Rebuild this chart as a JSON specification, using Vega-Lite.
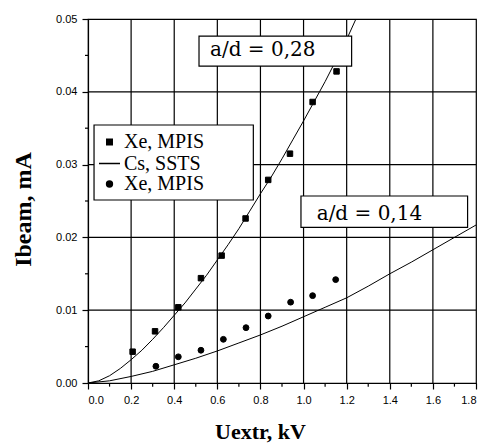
{
  "$schema": "https://vega.github.io/schema/vega-lite/v6.json",
  "width": 388,
  "height": 364,
  "autosize": "none",
  "padding": {"left": 88, "top": 19, "right": 8, "bottom": 65},
  "background": "white",
  "config": {
    "view": {"stroke": "black", "strokeWidth": 1.2},
    "axis": {
      "grid": false,
      "domainColor": "black", "domainWidth": 1.2,
      "tickColor": "black", "tickWidth": 1.2,
      "labelColor": "black", "labelFont": "Liberation Sans", "labelFontSize": 11,
      "titleColor": "black"
    }
  },
  "datasets": {
    "points": [
      {"U": 0.207, "I": 0.0043, "series": "Xe, MPIS (a/d = 0,28)"},
      {"U": 0.311, "I": 0.0071, "series": "Xe, MPIS (a/d = 0,28)"},
      {"U": 0.419, "I": 0.0104, "series": "Xe, MPIS (a/d = 0,28)"},
      {"U": 0.524, "I": 0.0144, "series": "Xe, MPIS (a/d = 0,28)"},
      {"U": 0.620, "I": 0.0175, "series": "Xe, MPIS (a/d = 0,28)"},
      {"U": 0.731, "I": 0.0226, "series": "Xe, MPIS (a/d = 0,28)"},
      {"U": 0.836, "I": 0.0279, "series": "Xe, MPIS (a/d = 0,28)"},
      {"U": 0.937, "I": 0.0315, "series": "Xe, MPIS (a/d = 0,28)"},
      {"U": 1.042, "I": 0.0386, "series": "Xe, MPIS (a/d = 0,28)"},
      {"U": 1.153, "I": 0.0428, "series": "Xe, MPIS (a/d = 0,28)"},
      {"U": 0.315, "I": 0.0023, "series": "Xe, MPIS (a/d = 0,14)"},
      {"U": 0.419, "I": 0.0036, "series": "Xe, MPIS (a/d = 0,14)"},
      {"U": 0.524, "I": 0.0045, "series": "Xe, MPIS (a/d = 0,14)"},
      {"U": 0.628, "I": 0.0060, "series": "Xe, MPIS (a/d = 0,14)"},
      {"U": 0.733, "I": 0.0076, "series": "Xe, MPIS (a/d = 0,14)"},
      {"U": 0.836, "I": 0.0092, "series": "Xe, MPIS (a/d = 0,14)"},
      {"U": 0.940, "I": 0.0111, "series": "Xe, MPIS (a/d = 0,14)"},
      {"U": 1.042, "I": 0.0120, "series": "Xe, MPIS (a/d = 0,14)"},
      {"U": 1.149, "I": 0.0142, "series": "Xe, MPIS (a/d = 0,14)"}
    ],
    "curves": [
      {"U": 0.0, "I": 0.0, "curve": "a/d = 0,28"},
      {"U": 0.05, "I": 0.0003, "curve": "a/d = 0,28"},
      {"U": 0.1, "I": 0.0010, "curve": "a/d = 0,28"},
      {"U": 0.15, "I": 0.0020, "curve": "a/d = 0,28"},
      {"U": 0.2, "I": 0.0032, "curve": "a/d = 0,28"},
      {"U": 0.25, "I": 0.0045, "curve": "a/d = 0,28"},
      {"U": 0.3, "I": 0.0060, "curve": "a/d = 0,28"},
      {"U": 0.35, "I": 0.0076, "curve": "a/d = 0,28"},
      {"U": 0.4, "I": 0.0093, "curve": "a/d = 0,28"},
      {"U": 0.45, "I": 0.0110, "curve": "a/d = 0,28"},
      {"U": 0.5, "I": 0.0129, "curve": "a/d = 0,28"},
      {"U": 0.55, "I": 0.0148, "curve": "a/d = 0,28"},
      {"U": 0.6, "I": 0.0169, "curve": "a/d = 0,28"},
      {"U": 0.65, "I": 0.0190, "curve": "a/d = 0,28"},
      {"U": 0.7, "I": 0.0212, "curve": "a/d = 0,28"},
      {"U": 0.75, "I": 0.0236, "curve": "a/d = 0,28"},
      {"U": 0.8, "I": 0.0260, "curve": "a/d = 0,28"},
      {"U": 0.85, "I": 0.0283, "curve": "a/d = 0,28"},
      {"U": 0.9, "I": 0.0308, "curve": "a/d = 0,28"},
      {"U": 0.95, "I": 0.0334, "curve": "a/d = 0,28"},
      {"U": 1.0, "I": 0.0360, "curve": "a/d = 0,28"},
      {"U": 1.05, "I": 0.0387, "curve": "a/d = 0,28"},
      {"U": 1.1, "I": 0.0414, "curve": "a/d = 0,28"},
      {"U": 1.15, "I": 0.0443, "curve": "a/d = 0,28"},
      {"U": 1.2, "I": 0.0472, "curve": "a/d = 0,28"},
      {"U": 1.243, "I": 0.0500, "curve": "a/d = 0,28"},
      {"U": 0.0, "I": 0.0, "curve": "a/d = 0,14"},
      {"U": 0.1, "I": 0.0003, "curve": "a/d = 0,14"},
      {"U": 0.2, "I": 0.0009, "curve": "a/d = 0,14"},
      {"U": 0.3, "I": 0.0016, "curve": "a/d = 0,14"},
      {"U": 0.4, "I": 0.0025, "curve": "a/d = 0,14"},
      {"U": 0.5, "I": 0.0034, "curve": "a/d = 0,14"},
      {"U": 0.6, "I": 0.0044, "curve": "a/d = 0,14"},
      {"U": 0.7, "I": 0.0055, "curve": "a/d = 0,14"},
      {"U": 0.8, "I": 0.0066, "curve": "a/d = 0,14"},
      {"U": 0.9, "I": 0.0078, "curve": "a/d = 0,14"},
      {"U": 1.0, "I": 0.0091, "curve": "a/d = 0,14"},
      {"U": 1.1, "I": 0.0104, "curve": "a/d = 0,14"},
      {"U": 1.2, "I": 0.0117, "curve": "a/d = 0,14"},
      {"U": 1.3, "I": 0.0133, "curve": "a/d = 0,14"},
      {"U": 1.4, "I": 0.0150, "curve": "a/d = 0,14"},
      {"U": 1.5, "I": 0.0166, "curve": "a/d = 0,14"},
      {"U": 1.6, "I": 0.0183, "curve": "a/d = 0,14"},
      {"U": 1.7, "I": 0.0200, "curve": "a/d = 0,14"},
      {"U": 1.8, "I": 0.0217, "curve": "a/d = 0,14"}
    ],
    "grid": [
      {"g": "U 0.2", "U": 0.2, "I": 0}, {"g": "U 0.2", "U": 0.2, "I": 0.05},
      {"g": "U 0.4", "U": 0.4, "I": 0}, {"g": "U 0.4", "U": 0.4, "I": 0.05},
      {"g": "U 0.6", "U": 0.6, "I": 0}, {"g": "U 0.6", "U": 0.6, "I": 0.05},
      {"g": "U 0.8", "U": 0.8, "I": 0}, {"g": "U 0.8", "U": 0.8, "I": 0.05},
      {"g": "U 1.0", "U": 1.0, "I": 0}, {"g": "U 1.0", "U": 1.0, "I": 0.05},
      {"g": "U 1.2", "U": 1.2, "I": 0}, {"g": "U 1.2", "U": 1.2, "I": 0.05},
      {"g": "U 1.4", "U": 1.4, "I": 0}, {"g": "U 1.4", "U": 1.4, "I": 0.05},
      {"g": "U 1.6", "U": 1.6, "I": 0}, {"g": "U 1.6", "U": 1.6, "I": 0.05},
      {"g": "I 0.01", "U": 0, "I": 0.01}, {"g": "I 0.01", "U": 1.8, "I": 0.01},
      {"g": "I 0.02", "U": 0, "I": 0.02}, {"g": "I 0.02", "U": 1.8, "I": 0.02},
      {"g": "I 0.03", "U": 0, "I": 0.03}, {"g": "I 0.03", "U": 1.8, "I": 0.03},
      {"g": "I 0.04", "U": 0, "I": 0.04}, {"g": "I 0.04", "U": 1.8, "I": 0.04}
    ],
    "minor": [
      {"g": "u0.1", "U": 0.1, "I": 0}, {"g": "u0.1", "U": 0.1, "I": -0.0005},
      {"g": "u0.3", "U": 0.3, "I": 0}, {"g": "u0.3", "U": 0.3, "I": -0.0005},
      {"g": "u0.5", "U": 0.5, "I": 0}, {"g": "u0.5", "U": 0.5, "I": -0.0005},
      {"g": "u0.7", "U": 0.7, "I": 0}, {"g": "u0.7", "U": 0.7, "I": -0.0005},
      {"g": "u0.9", "U": 0.9, "I": 0}, {"g": "u0.9", "U": 0.9, "I": -0.0005},
      {"g": "u1.1", "U": 1.1, "I": 0}, {"g": "u1.1", "U": 1.1, "I": -0.0005},
      {"g": "u1.3", "U": 1.3, "I": 0}, {"g": "u1.3", "U": 1.3, "I": -0.0005},
      {"g": "u1.5", "U": 1.5, "I": 0}, {"g": "u1.5", "U": 1.5, "I": -0.0005},
      {"g": "u1.7", "U": 1.7, "I": 0}, {"g": "u1.7", "U": 1.7, "I": -0.0005},
      {"g": "i0.005", "U": -0.014, "I": 0.005}, {"g": "i0.005", "U": 0, "I": 0.005},
      {"g": "i0.015", "U": -0.014, "I": 0.015}, {"g": "i0.015", "U": 0, "I": 0.015},
      {"g": "i0.025", "U": -0.014, "I": 0.025}, {"g": "i0.025", "U": 0, "I": 0.025},
      {"g": "i0.035", "U": -0.014, "I": 0.035}, {"g": "i0.035", "U": 0, "I": 0.035},
      {"g": "i0.045", "U": -0.014, "I": 0.045}, {"g": "i0.045", "U": 0, "I": 0.045}
    ],
    "boxes": [
      {"name": "legend", "U1": 0.028, "U2": 0.767, "I1": 0.02514, "I2": 0.03544},
      {"name": "a/d = 0,28", "U1": 0.515, "U2": 1.223, "I1": 0.04354, "I2": 0.04766},
      {"name": "a/d = 0,14", "U1": 0.988, "U2": 1.761, "I1": 0.02139, "I2": 0.02569}
    ],
    "labels": [
      {"text": "a/d = 0,28", "U": 0.566, "I": 0.0449},
      {"text": "a/d = 0,14", "U": 1.061, "I": 0.0224}
    ]
  },
  "layer": [
    {
      "data": {"name": "grid"},
      "mark": {"type": "line", "color": "black", "strokeWidth": 1.2},
      "encoding": {
        "x": {"field": "U", "type": "quantitative", "scale": {"domain": [0, 1.8], "nice": false},
          "axis": {"orient": "bottom", "values": [0, 0.2, 0.4, 0.6, 0.8, 1.0, 1.2, 1.4, 1.6, 1.8], "format": ".1f",
            "grid": false, "tickSize": 6, "labelPadding": 5,
            "title": "Uextr, kV", "titleFont": "Liberation Serif", "titleFontSize": 22, "titleFontWeight": "bold", "titleX": 172, "titleY": 55, "titleBaseline": "alphabetic", "titleAlign": "center"}},
        "y": {"field": "I", "type": "quantitative", "scale": {"domain": [0, 0.05], "nice": false},
          "axis": {"orient": "left", "values": [0, 0.01, 0.02, 0.03, 0.04, 0.05], "format": ".2f",
            "grid": false, "tickSize": 6, "labelPadding": 5,
            "title": "Ibeam, mA", "titleFont": "Liberation Serif", "titleFontSize": 24, "titleFontWeight": "bold", "titleAngle": -90, "titleX": -58, "titleY": 190, "titleBaseline": "alphabetic", "titleAlign": "center"}},
        "detail": {"field": "g"}
      }
    },
    {
      "data": {"name": "minor"},
      "mark": {"type": "line", "color": "black", "strokeWidth": 1.2},
      "encoding": {
        "x": {"field": "U", "type": "quantitative"},
        "y": {"field": "I", "type": "quantitative"},
        "detail": {"field": "g"}
      }
    },
    {
      "data": {"name": "curves"},
      "mark": {"type": "line", "color": "black", "strokeWidth": 1},
      "encoding": {
        "x": {"field": "U", "type": "quantitative"},
        "y": {"field": "I", "type": "quantitative"},
        "detail": {"field": "curve"},
        "order": {"field": "U"}
      }
    },
    {
      "data": {"name": "boxes"},
      "mark": {"type": "rect", "fill": "white", "stroke": "black", "strokeWidth": 1.2},
      "encoding": {
        "x": {"field": "U1", "type": "quantitative"},
        "x2": {"field": "U2"},
        "y": {"field": "I1", "type": "quantitative"},
        "y2": {"field": "I2"}
      }
    },
    {
      "data": {"name": "points"},
      "mark": {"type": "point", "filled": false, "fill": "black", "fillOpacity": 1, "stroke": "black", "strokeWidth": 1, "opacity": 1},
      "encoding": {
        "x": {"field": "U", "type": "quantitative"},
        "y": {"field": "I", "type": "quantitative"},
        "shape": {"field": "series", "type": "nominal",
          "scale": {"domain": ["Xe, MPIS (a/d = 0,28)", "Cs, SSTS", "Xe, MPIS (a/d = 0,14)"], "range": ["square", "stroke", "circle"]},
          "legend": {
            "title": null, "orient": "none", "legendX": 10, "legendY": 113, "padding": 0,
            "rowPadding": 0, "labelFont": "Liberation Serif", "labelFontSize": 20, "labelColor": "black", "labelOffset": 3,
            "labelExpr": "indexof(datum.label, ' (') > 0 ? substring(datum.label, 0, indexof(datum.label, ' (')) : datum.label"
          }},
        "size": {"field": "series", "type": "nominal",
          "scale": {"type": "ordinal", "domain": ["Xe, MPIS (a/d = 0,28)", "Cs, SSTS", "Xe, MPIS (a/d = 0,14)"], "range": [30, 441, 34]},
          "legend": {
            "title": null, "orient": "none", "legendX": 10, "legendY": 113, "padding": 0,
            "rowPadding": 0, "labelFont": "Liberation Serif", "labelFontSize": 20, "labelColor": "black", "labelOffset": 3,
            "labelExpr": "indexof(datum.label, ' (') > 0 ? substring(datum.label, 0, indexof(datum.label, ' (')) : datum.label"
          }}
      }
    },
    {
      "data": {"name": "labels"},
      "mark": {"type": "text", "font": "DejaVu Serif", "fontSize": 20, "align": "left", "baseline": "alphabetic", "color": "black"},
      "encoding": {
        "x": {"field": "U", "type": "quantitative"},
        "y": {"field": "I", "type": "quantitative"},
        "text": {"field": "text"}
      }
    }
  ]
}
